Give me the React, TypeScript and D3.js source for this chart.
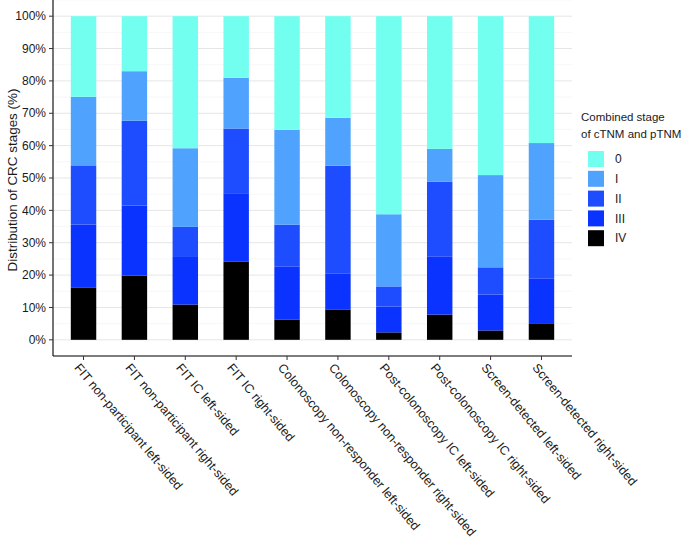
import React from "react";
import * as d3 from "d3";

const categories = [
  "FIT non-participant left-sided",
  "FIT non-participant right-sided",
  "FIT IC left-sided",
  "FIT IC right-sided",
  "Colonoscopy non-responder left-sided",
  "Colonoscopy non-responder right-sided",
  "Post-colonoscopy IC left-sided",
  "Post-colonoscopy IC right-sided",
  "Screen-detected left-sided",
  "Screen-detected right-sided",
];

const stageIV = [16.2, 19.8, 10.9, 24.1, 6.3, 9.4, 2.3, 7.8, 2.9, 4.9];
const stageIII = [19.4, 21.7, 14.7, 21.2, 16.4, 11.0, 8.0, 18.0, 11.1, 14.1];
const stageII = [18.3, 26.2, 9.3, 20.0, 12.9, 33.4, 6.2, 23.1, 8.4, 18.1];
const stageI = [21.2, 15.3, 24.3, 15.7, 29.3, 14.8, 22.3, 10.1, 28.5, 23.7];
const stage0 = [24.9, 17.0, 40.8, 19.0, 35.1, 31.4, 61.2, 41.0, 49.1, 39.2];

const legendKeys = ["0", "I", "II", "III", "IV"];
const stackKeys = ["IV", "III", "II", "I", "0"];
const colors: Record<string, string> = {
  "0": "#72fff0",
  I: "#4fa3ff",
  II: "#1e4cff",
  III: "#0b33ff",
  IV: "#000000",
};
const yTicks = [0, 0.1, 0.2, 0.3, 0.4, 0.5, 0.6, 0.7, 0.8, 0.9, 1.0];
const yMinor = [-0.05, 0.05, 0.15, 0.25, 0.35, 0.45, 0.55, 0.65, 0.75, 0.85, 0.95, 1.05];

const FONT = "'Liberation Sans', Arial, Helvetica, sans-serif";

export default function App() {
  const W = 689, H = 538;
  const left = 53, right = 572, top = 0, bottom = 356;

  const rows = categories.map((c, i) => ({
    cat: c,
    IV: stageIV[i] / 100,
    III: stageIII[i] / 100,
    II: stageII[i] / 100,
    I: stageI[i] / 100,
    "0": stage0[i] / 100,
  }));

  const x = d3.scalePoint<string>().domain(categories).range([left, right]).padding(0.6);
  const bw = x.step() * 0.5;
  const y = d3.scaleLinear().domain([-0.05, 1.05]).range([bottom, top]);
  const series = d3.stack<any>().keys(stackKeys)(rows);

  return (
    <svg width={W} height={H} style={{ position: "absolute", left: 0, top: 0, background: "#fff" }} fontFamily={FONT}>
      {yMinor.map((t) => (
        <line key={"m" + t} x1={left} x2={right} y1={y(t)} y2={y(t)} stroke="#f2f2f2" strokeWidth={0.6} />
      ))}
      {yTicks.map((t) => (
        <line key={"g" + t} x1={left} x2={right} y1={y(t)} y2={y(t)} stroke="#e6e6e6" strokeWidth={1} />
      ))}
      {series.map((s) => (
        <g key={s.key} fill={colors[s.key]}>
          {s.map((d, i) => (
            <rect
              key={i}
              x={(x(categories[i]) as number) - bw / 2}
              y={y(d[1])}
              width={bw}
              height={y(d[0]) - y(d[1])}
            />
          ))}
        </g>
      ))}
      <line x1={left} x2={left} y1={top} y2={bottom} stroke="#000" strokeWidth={1.1} />
      <line x1={left} x2={right} y1={bottom} y2={bottom} stroke="#000" strokeWidth={1.1} />
      {yTicks.map((t) => (
        <g key={"t" + t}>
          <line x1={left - 4} x2={left} y1={y(t)} y2={y(t)} stroke="#333" />
          <text x={left - 7} y={y(t)} dy="0.35em" textAnchor="end" fontSize={12} fill="#1a1a1a">
            {d3.format(".0%")(t)}
          </text>
        </g>
      ))}
      {categories.map((c) => {
        const cx = x(c) as number;
        return (
          <g key={c}>
            <line x1={cx} x2={cx} y1={bottom} y2={bottom + 4} stroke="#333" />
            <text
              transform={`translate(${cx - 2.5},${bottom + 6}) rotate(50)`}
              dy="0.75em"
              fontSize={12.6}
              fill="#1a1a1a"
            >
              {c}
            </text>
          </g>
        );
      })}
      <text
        transform={`translate(13,${(y(0) + y(1)) / 2 + 2}) rotate(-90) scale(1.12,1)`}
        textAnchor="middle"
        dy="0.35em"
        fontSize={12}
        fill="#1a1a1a"
      >
        Distribution of CRC stages (%)
      </text>
      <text x={581} y={121} fontSize={11.5} fill="#1a1a1a">Combined stage</text>
      <text x={581} y={138} fontSize={11.5} fill="#1a1a1a">of cTNM and pTNM</text>
      {legendKeys.map((k, i) => (
        <g key={k} transform={`translate(588,${151 + i * 19.8})`}>
          <rect width={16} height={16} fill={colors[k]} />
          <text x={27} y={8} dy="0.35em" fontSize={12} fill="#1a1a1a">{k}</text>
        </g>
      ))}
    </svg>
  );
}
